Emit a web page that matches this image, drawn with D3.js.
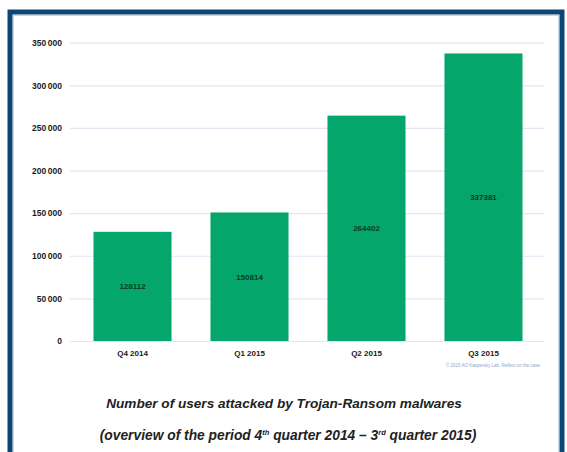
<!DOCTYPE html>
<html><head><meta charset="utf-8">
<script src="https://cdn.jsdelivr.net/npm/d3@7"></script>
<style>html,body{margin:0;padding:0;background:#fff;overflow:hidden}</style>
</head><body><svg id="c" width="567" height="452"></svg>
<script>
const categories = ["Q4 2014", "Q1 2015", "Q2 2015", "Q3 2015"];
const values = [128112, 150814, 264402, 337381];
const yTicks = [0, 50000, 100000, 150000, 200000, 250000, 300000, 350000];
const captionLine1 = "Number of users attacked by Trojan-Ransom malwares";
const copyright = "© 2015 AO Kaspersky Lab. Reflect on the case";

const svg = d3.select("#c");
const fmt = d3.formatLocale({decimal: ".", thousands: "\u2009", grouping: [3], currency: ["", ""]}).format(",d");
const narrow = "'Liberation Sans Narrow','Arial Narrow','Liberation Sans',Arial,sans-serif";

// frame
svg.append("rect").attr("x", 10).attr("y", 12).attr("width", 552).attr("height", 450)
  .attr("fill", "#fff").attr("stroke", "#0d4675").attr("stroke-width", 5);
svg.append("rect").attr("x", 13.5).attr("y", 15.5).attr("width", 545).attr("height", 445)
  .attr("fill", "none").attr("stroke", "#c9d6e6").attr("stroke-width", 1);

const x = d3.scaleBand().domain(categories).range([74, 542]).paddingInner(0.333).paddingOuter(0.1667);
const y = d3.scaleLinear().domain([0, 350000]).range([341, 42.7]);

// grid
const yAxis = d3.axisLeft(y).tickValues(yTicks).tickFormat(fmt).tickSize(-(544 - 70)).tickPadding(8);
const gy = svg.append("g").attr("transform", "translate(70,0)").call(yAxis);
gy.select(".domain").remove();
gy.selectAll(".tick line").attr("stroke", "#e3e5f3").attr("stroke-width", 1.2);
gy.selectAll(".tick text").attr("font-family", narrow).attr("font-size", 8.5).attr("font-weight", "bold")
  .attr("fill", "#1a1a1a");

// bars
svg.append("g").selectAll("rect").data(values).join("rect")
  .attr("x", (d, i) => x(categories[i])).attr("width", x.bandwidth())
  .attr("y", d => y(d)).attr("height", d => y(0) - y(d)).attr("fill", "#05a66b");

// value labels
svg.append("g").selectAll("text").data(values).join("text")
  .attr("x", (d, i) => x(categories[i]) + x.bandwidth() / 2)
  .attr("y", d => (y(d) + y(0)) / 2 + 3)
  .attr("text-anchor", "middle").attr("font-family", narrow).attr("font-size", 8)
  .attr("font-weight", "bold").attr("fill", "#0b3a22").text(d => d3.format("d")(d));

// x axis
const xAxis = d3.axisBottom(x).tickSize(0).tickPadding(9);
const gx = svg.append("g").attr("transform", "translate(0,341)").call(xAxis);
gx.select(".domain").attr("stroke", "#e3e5f3").attr("d", "M70,0.5H544");
gx.selectAll(".tick text").attr("font-family", narrow).attr("font-size", 8).attr("font-weight", "bold").attr("fill", "#1a1a1a");

// copyright
svg.append("text").attr("x", 540).attr("y", 367).attr("text-anchor", "end")
  .attr("font-family", narrow).attr("font-size", 4.5).attr("fill", "#8fa6cc").text(copyright);

// caption
const cap = svg.append("g").attr("font-family", "'Liberation Sans',Arial,sans-serif")
  .attr("font-style", "italic").attr("font-weight", "bold").attr("fill", "#222").attr("text-anchor", "middle");
cap.append("text").attr("x", 284).attr("y", 408).attr("font-size", 13.6).text(captionLine1);
const t2 = cap.append("text").attr("x", 288).attr("y", 440).attr("font-size", 13.8);
t2.append("tspan").text("(overview of the period 4");
t2.append("tspan").attr("dy", -5).attr("font-size", 7.5).text("th");
t2.append("tspan").attr("dy", 5).text(" quarter 2014 \u2013 3");
t2.append("tspan").attr("dy", -5).attr("font-size", 7.5).text("rd");
t2.append("tspan").attr("dy", 5).text(" quarter 2015)");
</script></body></html>
